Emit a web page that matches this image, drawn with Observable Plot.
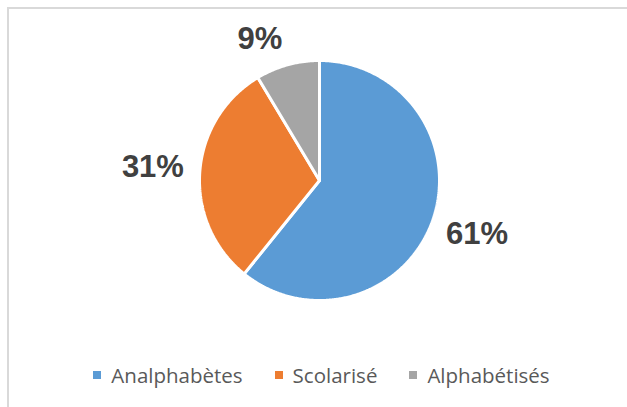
<!DOCTYPE html>
<html>
<head>
<meta charset="utf-8">
<script src="https://cdn.jsdelivr.net/npm/d3@7"></script>
<script src="https://cdn.jsdelivr.net/npm/@observablehq/plot@0.6"></script>
<style>
  html, body { margin: 0; padding: 0; background: #fff; }
  #wrap { position: relative; width: 627px; height: 407px; overflow: hidden; }
  #frame { position: absolute; left: 7px; top: 7px; width: 700px; height: 500px;
           border-left: 2px solid #d9d9d9; border-top: 2px solid #d9d9d9; pointer-events: none; }
  #legend { position: absolute; left: 0; top: 361px; width: 627px; display: flex; justify-content: center;
            align-items: center; font-family: "Open Sans", sans-serif; font-size: 20.5px; color: #595959; padding-left: 16px; box-sizing: border-box;}
  .item { display: flex; align-items: center; margin: 0 16px; }
  .sw { width: 8px; height: 8px; margin-right: 10px; }
</style>
</head>
<body>
<div id="wrap">
  <div id="chart"></div>
  <div id="legend"></div>
  <div id="frame"></div>
</div>
<script>
const categories = ["Analphabètes", "Scolarisé", "Alphabétisés"];
const values = [60.8, 30.6, 8.6];
const colors = ["#5B9BD5", "#ED7D31", "#A5A5A5"];

const W = 627, H = 350;
const cx = 319, cy = 180, R = 120;
const total = d3.sum(values);

// build slice polygons (clockwise from 12 o'clock)
const slices = [];
const labels = [];
let acc = 0;
values.forEach((v, i) => {
  const a0 = acc / total * 2 * Math.PI;
  acc += v;
  const a1 = acc / total * 2 * Math.PI;
  slices.push({cat: categories[i], x: cx, y: cy});
  const n = Math.max(2, Math.ceil((a1 - a0) / (Math.PI / 360)));
  for (let k = 0; k <= n; k++) {
    const a = a0 + (a1 - a0) * k / n;
    slices.push({cat: categories[i], x: cx + R * Math.sin(a), y: cy - R * Math.cos(a)});
  }
  slices.push({cat: categories[i], x: cx, y: cy});
  const am = (a0 + a1) / 2;
  const lr = R + 47;
  labels.push({
    cat: categories[i],
    text: Math.round(v / total * 100) + "%",
    x: cx + lr * Math.sin(am),
    y: cy - lr * Math.cos(am),
    small: v / total < 0.12
  });
});

const chart = Plot.plot({
  width: W, height: H,
  margin: 0,
  x: {domain: [0, W], range: [0, W], axis: null},
  y: {domain: [0, H], range: [0, H], axis: null},
  color: {domain: categories, range: colors},
  style: {background: "transparent"},
  marks: [
    Plot.line(slices, {x: "x", y: "y", z: "cat", fill: "cat", stroke: "white", strokeWidth: 3, strokeLinejoin: "miter"}),
    Plot.text(labels.filter(d => !d.small), {x: "x", y: "y", text: "text", fill: "#404040", dy: -2,
      fontSize: 31, fontWeight: "bold", fontFamily: "'Liberation Sans', Arial, sans-serif"}),
    Plot.text(labels.filter(d => d.small), {x: "x", y: "y", text: "text", fill: "#404040", dx: -15, dy: 20,
      fontSize: 31, fontWeight: "bold", fontFamily: "'Liberation Sans', Arial, sans-serif"})
  ]
});
document.getElementById("chart").appendChild(chart);

const legend = document.getElementById("legend");
categories.forEach((c, i) => {
  const it = document.createElement("div");
  it.className = "item";
  const sw = document.createElement("span");
  sw.className = "sw";
  sw.style.background = colors[i];
  const t = document.createElement("span");
  t.textContent = c;
  it.appendChild(sw); it.appendChild(t);
  legend.appendChild(it);
});
</script>
</body>
</html>
